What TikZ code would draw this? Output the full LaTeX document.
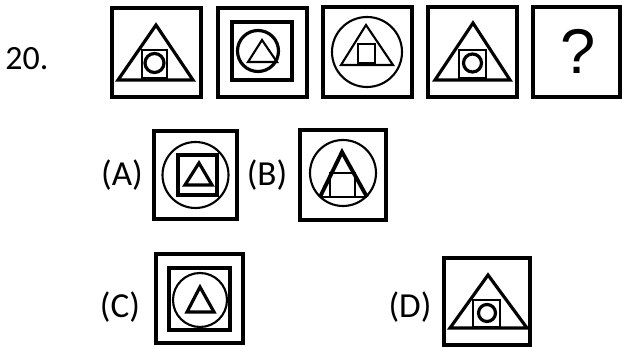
\documentclass[tikz,border=0pt]{standalone}
\usepackage{fontspec}
\setmainfont{Carlito}
\newfontfamily\qfont{Liberation Sans}
\usepackage{tikz}
\usetikzlibrary{positioning}

\begin{document}
\begin{tikzpicture}[x=0.03cm, y=-0.03cm,
    frame/.style={line width=2.8pt},
    fig/.style={line width=2.7pt, line join=miter},
    thinfig/.style={line width=1.8pt},
    every node/.style={font=\fontsize{30}{30}\selectfont, inner sep=0pt}]
    \useasboundingbox (0,0) rectangle (622,347);
    \node[font=\fontsize{29}{30}\selectfont] (num) at (27,59) {20.};
    % question row
    \draw[frame] (112,8) rectangle (201,97);
    \draw[fig] (118,80) -- (156,25) -- (193,80) -- cycle;
    \draw[thinfig] (142,50) rectangle (167,78);
    \draw[fig] (154.5,63) circle (9.5);
    \draw[frame] (218,8) rectangle (307,97);
    \draw[fig] (232,22) rectangle (292,80);
    \draw[fig] (258,51) circle (20.5);
    \draw[thinfig] (248,62) -- (262,40) -- (277,62) -- cycle;
    \draw[frame] (323,7) rectangle (412,97);
    \draw[thinfig] (367,52) circle (35);
    \draw[thinfig] (341,65) -- (366,25) -- (393,65) -- cycle;
    \draw[thinfig] (358,44) rectangle (375,63);
    \draw[frame] (428,7) rectangle (517,97);
    \draw[fig] (435,80) -- (473,23) -- (510,80) -- cycle;
    \draw[thinfig] (459,50) rectangle (486,78);
    \draw[fig] (472.5,63) circle (9);
    \draw[frame] (533,7) rectangle (620,97);
    \node[font=\qfont\fontsize{54}{54}\selectfont] (qm) at (578,51) {?};
    % options
    \node (la) at (122,175) {(A)};
    \draw[frame] (154,131) rectangle (237,219);
    \draw[thinfig] (195.5,175) circle (33);
    \draw[line width=3.3pt] (178,155) rectangle (217,195);
    \draw[fig] (185,185) -- (199,163) -- (212,185) -- cycle;
    \node (lb) at (267,175) {(B)};
    \draw[frame] (300,130) rectangle (386,220);
    \draw[thinfig] (343,173) circle (33);
    \draw[thinfig] (330,197) -- (330,173) -- (355,173) -- (355,197);
    \draw[thinfig] (320,197) -- (367,197);
    \draw[line width=3.3pt] (320,197) -- (342,152) -- (367,197);
    \node (lc) at (120,307) {(C)};
    \draw[frame] (156,254) rectangle (243,343);
    \draw[fig] (169,268) rectangle (230,330);
    \draw[thinfig] (200,300) circle (27);
    \draw[fig] (187,312) -- (200,287) -- (214,312) -- cycle;
    \node (ld) at (410,307) {(D)};
    \draw[frame] (444,258) rectangle (530,345);
    \draw[fig] (450,328) -- (488,275) -- (527,328) -- cycle;
    \draw[thinfig] (473,300) rectangle (500,327);
    \draw[fig] (487,313) circle (8.5);
\end{tikzpicture}
\end{document}
